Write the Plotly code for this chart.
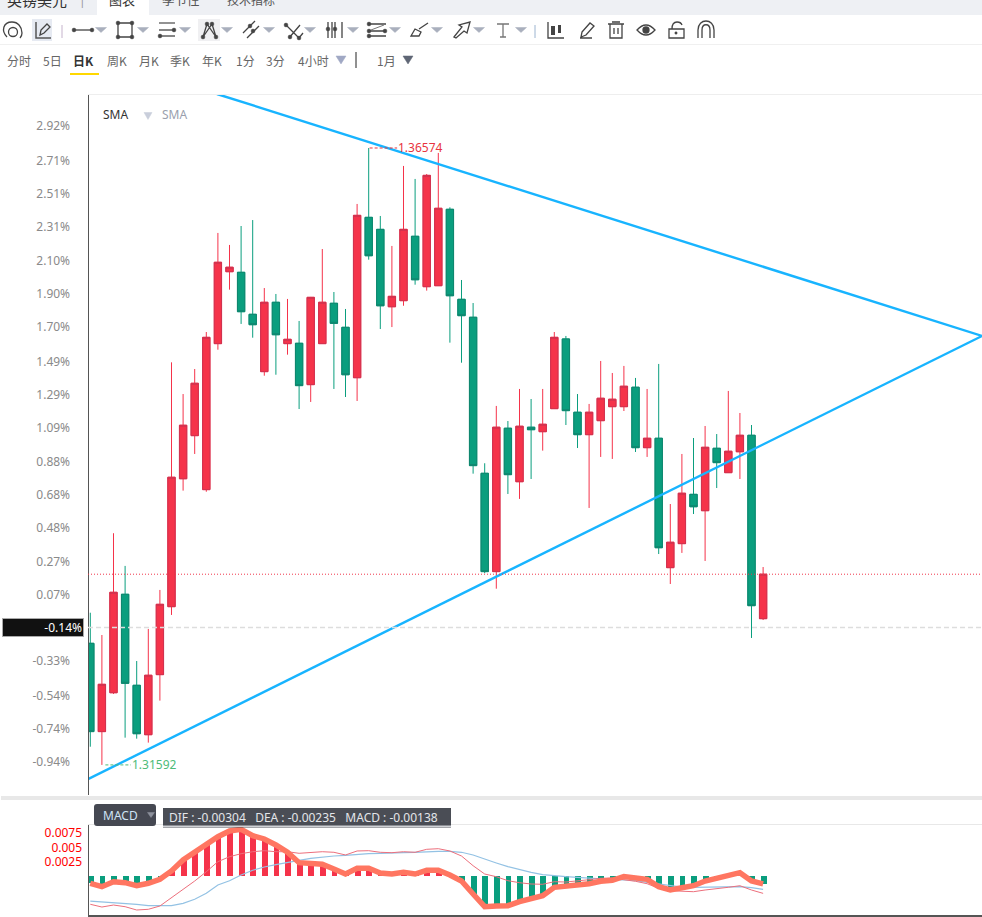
import re
import plotly.graph_objects as go

# Daily GBP/USD candles
open_ = [1.32574,1.31861,1.32175,1.32970,1.32235,1.31836,1.32321,1.32870,1.33903,1.34251,
         1.33815,1.34994,1.35575,1.35570,1.35231,1.34768,1.35328,1.34994,1.34997,1.34663,
         1.34994,1.35320,1.35126,1.34719,1.36014,1.35917,1.35292,1.35341,1.35861,1.35454,
         1.35462,1.36079,1.35352,1.35207,1.33947,1.33153,1.34311,1.33879,1.34319,1.34283,
         1.34469,1.35032,1.34440,1.34259,1.34372,1.34485,1.34485,1.34642,1.34154,1.34230,
         1.33185,1.33379,1.33777,1.33645,1.34149,1.33952,1.34121,1.34254,1.32773]
high = [1.32821,1.32641,1.33463,1.33199,1.32431,1.32690,1.33005,1.34843,1.34587,1.34789,
        1.35088,1.35888,1.35791,1.35944,1.35992,1.35443,1.35395,1.35355,1.35177,1.35371,
        1.35758,1.35411,1.35274,1.36122,1.36574,1.36025,1.35783,1.36429,1.36324,1.36364,
        1.36534,1.36095,1.35508,1.35322,1.34028,1.34491,1.34369,1.34628,1.34547,1.34628,
        1.35088,1.35056,1.34587,1.34507,1.34854,1.34757,1.34814,1.34717,1.34628,1.34830,
        1.33699,1.34103,1.34232,1.34329,1.34264,1.34612,1.34434,1.34337,1.33190]
low = [1.31739,1.31592,1.32165,1.31812,1.31804,1.31772,1.32111,1.32803,1.33807,1.34103,
       1.33798,1.34945,1.35430,1.35153,1.35042,1.34735,1.34743,1.34905,1.34466,1.34523,
       1.34991,1.34628,1.34563,1.34531,1.35672,1.35112,1.35128,1.35300,1.35470,1.35422,
       1.35462,1.35002,1.34840,1.33944,1.33140,1.33015,1.33780,1.33740,1.33901,1.34130,
       1.34469,1.34337,1.34151,1.33667,1.34079,1.34063,1.34450,1.34119,1.34079,1.33295,
       1.33053,1.33304,1.33618,1.33239,1.33828,1.33952,1.33901,1.32617,1.32762]
close = [1.31861,1.32243,1.32986,1.32251,1.31844,1.32316,1.32889,1.33915,1.34335,1.34674,
         1.35045,1.35651,1.35611,1.35252,1.35147,1.35328,1.35066,1.35029,1.34655,1.35368,
         1.35328,1.35158,1.34743,1.36030,1.35704,1.35300,1.35376,1.35917,1.35510,1.36353,
         1.36087,1.35381,1.35220,1.34009,1.33153,1.34319,1.33936,1.34327,1.34299,1.34343,
         1.35045,1.34453,1.34259,1.34440,1.34553,1.34545,1.34650,1.34154,1.34230,1.33346,
         1.33390,1.33786,1.33677,1.34157,1.34033,1.34125,1.34254,1.32878,1.33132]
bar_index = list(range(len(close)))

# MACD panel series
macd_hist = [-0.00128,-0.00187,-0.00100,-0.00117,-0.00170,-0.00128,-0.00058,0.00088,0.00280,0.00425,
             0.00543,0.00688,0.00788,0.00817,0.00705,0.00648,0.00543,0.00415,0.00233,0.00222,
             0.00205,0.00123,0.00035,0.00135,0.00135,0.00053,0.00035,0.00065,0.00035,0.00100,
             0.00100,0.00018,-0.00088,-0.00315,-0.00537,-0.00525,-0.00520,-0.00450,-0.00390,-0.00345,
             -0.00198,-0.00175,-0.00170,-0.00135,-0.00093,-0.00075,-0.00009,-0.00030,-0.00058,-0.00187,
             -0.00245,-0.00205,-0.00170,-0.00088,-0.00040,-0.00012,0.00058,-0.00088,-0.00138]
dea = [-0.00438,-0.00450,-0.00460,-0.00478,-0.00495,-0.00520,-0.00525,-0.00520,-0.00478,-0.00408,
       -0.00303,-0.00158,-0.00082,0.00018,0.00100,0.00158,0.00198,0.00240,0.00275,0.00310,
       0.00333,0.00350,0.00362,0.00380,0.00390,0.00397,0.00397,0.00408,0.00415,0.00425,
       0.00432,0.00432,0.00415,0.00368,0.00292,0.00228,0.00163,0.00110,0.00065,0.00023,
       0.0,-0.00012,-0.00023,-0.00040,-0.00053,-0.00065,-0.00070,-0.00082,-0.00110,-0.00140,
       -0.00158,-0.00193,-0.00198,-0.00198,-0.00198,-0.00193,-0.00187,-0.00205,-0.00235]
dif = [-0.00495,-0.00543,-0.00508,-0.00537,-0.00595,-0.00583,-0.00525,-0.00380,-0.00233,-0.00088,
       0.00075,0.00250,0.00338,0.00390,0.00425,0.00443,0.00425,0.00425,0.00397,0.00415,
       0.00425,0.00415,0.00368,0.00438,0.00443,0.00415,0.00408,0.00425,0.00415,0.00467,
       0.00478,0.00438,0.00350,0.00180,0.00035,-0.00012,-0.00082,-0.00117,-0.00140,-0.00145,
       -0.00100,-0.00105,-0.00088,-0.00065,-0.00040,-0.00035,-0.00065,-0.00093,-0.00135,-0.00215,
       -0.00257,-0.00263,-0.00275,-0.00245,-0.00228,-0.00198,-0.00170,-0.00245,-0.00304]

# Axis ticks and reference levels
base_price = 1.3287
pct_ticks = [2.92,2.71,2.51,2.31,2.10,1.90,1.70,1.49,1.29,1.09,0.88,0.68,0.48,0.27,0.07,-0.33,-0.54,-0.74,-0.94]
macd_ticks = [0.0075,0.005,0.0025]
current_level = 1.32702
last_close_level = 1.33132
current_pct_label = "-0.14%"

# Drawn trend lines: (bar index, price) end points
trend_upper_x = [10.92, 76.87]
trend_upper_y = [1.37010, 1.35056]
trend_lower_x = [-0.155, 76.87]
trend_lower_y = [1.31479, 1.35056]

W, H = 982, 917
RED, GREEN = "#f5334a", "#0a9e7e"
RED_EDGE, GREEN_EDGE = "#cf3350", "#10866f"
BLUE = "#18b4ff"
FONT = "Noto Sans, Noto Sans CJK SC, sans-serif"
CJK = "Noto Sans CJK SC, Noto Sans, sans-serif"

X_RANGE = [-0.155, 76.87]
Y_RANGE = [1.31349, 1.37010]
M_RANGE = [-0.0070, 0.0091]
top = [max(o, c) for o, c in zip(open_, close)]
bottom = [min(o, c) for o, c in zip(open_, close)]

fig = go.Figure()

# Wicks first, then the outlined bodies over them
fig.add_trace(go.Candlestick(
    x=bar_index, open=open_, high=high, low=low, close=close, xaxis="x", yaxis="y",
    increasing=dict(line=dict(color=RED, width=1), fillcolor=RED),
    decreasing=dict(line=dict(color=GREEN, width=1), fillcolor=GREEN),
    whiskerwidth=0, showlegend=False, hoverinfo="skip"))
fig.add_trace(go.Candlestick(
    x=bar_index, open=open_, high=top, low=bottom, close=close, xaxis="x", yaxis="y",
    increasing=dict(line=dict(color=RED_EDGE, width=1), fillcolor=RED),
    decreasing=dict(line=dict(color=GREEN_EDGE, width=1), fillcolor=GREEN),
    whiskerwidth=0, showlegend=False, hoverinfo="skip"))

for tx, ty in ((trend_upper_x, trend_upper_y), (trend_lower_x, trend_lower_y)):
    fig.add_trace(go.Scatter(x=tx, y=ty, mode="lines", line=dict(color=BLUE, width=2.4),
                             xaxis="x", yaxis="y", showlegend=False, hoverinfo="skip"))

# High and low markers with their dashed leaders
hi_i = high.index(max(high))
lo_i = low.index(min(low))
fig.add_trace(go.Scatter(x=[hi_i + 0.08, hi_i + 2.45], y=[max(high)] * 2, mode="lines",
                         line=dict(color="#e8343e", width=1, dash="3px,2px"),
                         showlegend=False, hoverinfo="skip"))
fig.add_trace(go.Scatter(x=[lo_i + 0.3, lo_i + 2.5], y=[min(low)] * 2, mode="lines",
                         line=dict(color="#4dbb78", width=1, dash="3px,2px"),
                         showlegend=False, hoverinfo="skip"))

# MACD histogram, signal lines and the heavy MACD trace
fig.add_trace(go.Bar(x=bar_index, y=macd_hist, width=0.5, xaxis="x2", yaxis="y2",
                     marker=dict(color=[RED if v > 0 else GREEN for v in macd_hist], line=dict(width=0)),
                     showlegend=False, hoverinfo="skip"))
fig.add_trace(go.Scatter(x=bar_index, y=dea, mode="lines", line=dict(color="#93c2e4", width=1.2),
                         xaxis="x2", yaxis="y2", showlegend=False, hoverinfo="skip"))
fig.add_trace(go.Scatter(x=bar_index, y=dif, mode="lines", line=dict(color="#ec6f7c", width=1),
                         xaxis="x2", yaxis="y2", showlegend=False, hoverinfo="skip"))
fig.add_trace(go.Scatter(x=bar_index, y=macd_hist, mode="lines", line=dict(color="#ff7661", width=5.5),
                         xaxis="x2", yaxis="y2", showlegend=False, hoverinfo="skip"))

# Pixel helpers for the toolbar chrome
def px(x): return x / W
def py(y): return 1 - y / H

def path_to_paper(d):
    tokens = re.findall(r"[A-Za-z]|-?\d+\.?\d*", d)
    out, is_x = [], True
    for t in tokens:
        if t.isalpha():
            out.append(t); is_x = True
        else:
            v = float(t)
            out.append(f"{px(v):.5f}" if is_x else f"{py(v):.5f}")
            is_x = not is_x
    return " ".join(out)

shapes, annos = [], []

def path(d, color="#444", width=1.3, fill=None):
    shapes.append(dict(type="path", xref="paper", yref="paper", path=path_to_paper(d),
                       line=dict(color=color, width=width),
                       fillcolor=fill if fill else "rgba(0,0,0,0)"))

def rect(x0, y0, x1, y1, fill, line=None, width=0):
    shapes.append(dict(type="rect", xref="paper", yref="paper", x0=px(x0), x1=px(x1), y0=py(y0), y1=py(y1),
                       fillcolor=fill, line=dict(color=line or fill, width=width)))

def circle(cx, cy, r, fill=None, color="#444", width=1.3):
    shapes.append(dict(type="circle", xref="paper", yref="paper", x0=px(cx - r), x1=px(cx + r),
                       y0=py(cy - r), y1=py(cy + r), fillcolor=fill if fill else "rgba(0,0,0,0)",
                       line=dict(color=color, width=width)))

def dots(pts, r=1.9):
    for a, b in pts:
        circle(a, b, r, fill="#444", width=0.5)

def tri(cx, cy=30, w=5.5, h=5, color="#a9afbd"):
    path(f"M {cx-w} {cy-h/2} L {cx+w} {cy-h/2} L {cx} {cy+h/2} Z", color=color, width=0.5, fill=color)

def label(x, y, text, size=12, color="#666", anchor="center", font=FONT, bold=False):
    annos.append(dict(xref="paper", yref="paper", x=px(x), y=py(y), text=f"<b>{text}</b>" if bold else text,
                      showarrow=False, xanchor=anchor, yanchor="middle", borderpad=0,
                      font=dict(size=size, color=color, family=font)))

# Tab strip
rect(0, 0, 982, 15, "#eef0f4")
rect(97, 0, 149, 15, "#ffffff")
label(37, -1, "英镑美元", 15, "#333", font=CJK)
label(82, 0, "|", 12, "#999")
label(122, -1, "图表", 13, "#333", font=CJK)
label(181, -1, "季节性", 12.5, "#555", font=CJK)
label(251, -1, "技术指标", 12, "#555", font=CJK)
rect(0, 44, 982, 45, "#f0f0f0")

# Drawing toolbar icons
path("M 7 37 C 1 31 3 22 12 22 C 18 22 22 27 22 33 C 22 35 21 37 20 38")
circle(13, 32, 4.5)
rect(32, 19, 52, 41, "#e6eaf2")
path("M 36 22 L 36 38 L 51 38", color="#555", width=1.5)
path("M 40 35 L 41 30 L 47 24 L 50 27 L 44 33 Z")
path("M 62 25 L 62 38", color="#c5b3cc", width=1)
path("M 74 30 L 92 30"); dots([(74, 30), (92, 30)]); tri(101)
path("M 118 23 L 132 23 L 132 37 L 118 37 Z"); dots([(118, 23), (132, 23), (118, 37), (132, 37)]); tri(143)
path("M 159 23 L 175 23", color="#777", width=1.6); path("M 159 30 L 175 30"); path("M 159 36 L 175 36")
dots([(174, 30), (160, 36)]); tri(185)
rect(198, 19, 220, 41, "#f0f0f2")
path("M 203 37 L 207 24 L 216 37 M 203 37 L 212 24 L 216 37")
dots([(203, 37), (207, 24), (212, 24), (216, 37)]); tri(227)
path("M 243 33 L 255 21 M 247 38 L 259 26"); dots([(250, 26), (253, 31)]); tri(269)
path("M 285 24 L 299 38 L 303 33 M 289 38 L 300 25"); dots([(286, 25), (299, 38), (290, 37)]); tri(310)
path("M 328 22 L 328 38 M 335 22 L 335 38 M 342 22 L 342 38 M 332 22 L 332 38"); dots([(328, 29), (335, 29)]); tri(353)
path("M 369 24 L 386 24 M 369 31 L 386 31 M 369 36 L 386 36"); path("M 371 30 L 384 25", color="#777", width=1)
dots([(369, 24), (369, 31), (369, 36), (385, 31)]); tri(395)
path("M 411 36 L 415 29 L 421 32 L 419 36 Z M 419 29 L 428 23"); tri(437)
path("M 454 37 L 462 27 L 459 25 L 470 22 L 467 33 L 464 31 L 456 38 Z"); tri(479)
path("M 497 24 L 509 24 M 503 24 L 503 37 M 500 37 L 506 37", color="#777"); tri(521)
path("M 535 25 L 535 38", color="#9cb4d0", width=1)
path("M 548 22 L 548 38 L 564 38"); rect(551, 26, 555, 35, "#444"); rect(558, 25, 561, 33, "#444")
path("M 582 32 L 590 23 L 594 26 L 586 35 L 581 37 Z M 580 38 L 592 38")
path("M 608 24 L 624 24 M 612 22 L 620 22 M 610 24 L 610 38 L 622 38 L 622 24 M 614 28 L 614 34 M 618 28 L 618 34")
path("M 637 30 Q 646 20 655 30 Q 646 40 637 30 Z"); circle(646, 30, 3, fill="#444")
path("M 669 29 L 684 29 L 684 38 L 669 38 Z M 672 29 Q 672 22 677 22 Q 681 22 682 25"); dots([(676, 33)], 1.2)
path("M 698 38 L 698 30 C 698 18 714 18 714 30 L 714 38 M 702 38 L 702 30 C 702 23 710 23 710 30 L 710 38")

# Timeframe row
for tx, txt in ((19, "分时"), (52, "5日"), (117, "周K"), (149, "月K"), (180, "季K"),
                (212, "年K"), (245, "1分"), (275, "3分"), (313, "4小时"), (386, "1月")):
    label(tx, 60, txt, 12, "#666", font=CJK)
label(83, 60, "日K", 12, "#333", font=CJK, bold=True)
rect(70, 73, 99, 75, "#ffd800")
tri(341, 60, 5, 8, "#a0a8c4"); tri(408, 60, 5, 8, "#5f6675")
path("M 356 52 L 356 68", color="#222", width=1)

# Chart frame and indicator strip
rect(88, 94, 982, 95, "#eeeeee")
rect(1, 796, 982, 800, "#e8e8e8")
rect(88, 824, 982, 825, "#e8e8e8")

label(102, 115, "SMA", 12, "#333", anchor="left")
tri(148, 116, 4, 7, "#c9cedb")
label(161, 115, "SMA", 12, "#9a9fad", anchor="left")

# MACD badge and readout
shapes.append(dict(type="path", xref="paper", yref="paper", line=dict(width=0), fillcolor="#454852",
                   path=path_to_paper("M 97 804 L 153 804 Q 156 804 156 807 L 156 823 Q 156 826 153 826 "
                                      "L 97 826 Q 94 826 94 823 L 94 807 Q 94 804 97 804 Z")))
label(120, 815, "MACD", 12, "#cfe3f5")
tri(151, 815, 3.5, 5, "#8d919c")
rect(163, 808, 451, 827.5, "#4a4d55")
rect(163, 825.5, 451, 827, "#d0d2d6")
label(168, 817.5, f"DIF : {dif[-1]:.5f}&nbsp;&nbsp;&nbsp;DEA : {dea[-1]:.5f}&nbsp;&nbsp;&nbsp;MACD : {macd_hist[-1]:.5f}",
      12, "#e4e6ea", anchor="left")

# Reference levels tied to the price scale
shapes.append(dict(type="line", xref="paper", x0=px(88), x1=1, yref="y", y0=last_close_level, y1=last_close_level,
                   line=dict(color="#f0364c", width=1, dash="1px,2px")))
shapes.append(dict(type="line", xref="paper", x0=px(88), x1=1, yref="y", y0=current_level, y1=current_level,
                   line=dict(color="#dddddd", width=1.5, dash="5px,3px")))

# Current value tag on the axis
annos.append(dict(xref="paper", yref="y", x=px(84), y=current_level, xanchor="right", yanchor="middle",
                  text=current_pct_label, showarrow=False, align="right", width=78, height=15, borderpad=1,
                  bgcolor="#111111", bordercolor="#aaaaaa", borderwidth=1,
                  font=dict(size=12, color="#ffffff", family=FONT)))

# Extreme price labels
annos.append(dict(xref="x", yref="y", x=hi_i + 2.45, y=max(high), text=f"{max(high):.5f}", showarrow=False,
                  xanchor="left", yanchor="middle", borderpad=0, font=dict(size=12, color="#e8343e", family=FONT)))
annos.append(dict(xref="x", yref="y", x=lo_i + 2.5, y=min(low), text=f"{min(low):.5f}", showarrow=False,
                  xanchor="left", yanchor="middle", borderpad=0, font=dict(size=12, color="#4dbb78", family=FONT)))

fig.update_layout(
    width=W, height=H, autosize=False,
    margin=dict(l=0, r=0, t=0, b=0),
    paper_bgcolor="#ffffff", plot_bgcolor="rgba(0,0,0,0)",
    showlegend=False, dragmode=False, boxgap=0.1, bargap=0,
    shapes=shapes, annotations=annos,
    xaxis=dict(domain=[88.5 / W, 1], range=X_RANGE, visible=False, fixedrange=True,
               rangeslider=dict(visible=False), anchor="y"),
    yaxis=dict(domain=[1 - 795 / H, 1 - 94 / H], range=Y_RANGE, anchor="x", fixedrange=True,
               tickmode="array", tickvals=[base_price * (1 + p / 100) for p in pct_ticks],
               ticktext=[f"{p:.2f}%" for p in pct_ticks],
               tickfont=dict(size=12, color="#8a8a8a", family=FONT),
               ticks="", ticklabelstandoff=15, showgrid=False, zeroline=False,
               showline=True, linecolor="#555555", linewidth=1),
    xaxis2=dict(domain=[88.5 / W, 1], range=X_RANGE, visible=False, fixedrange=True,
                rangeslider=dict(visible=False), anchor="y2"),
    yaxis2=dict(domain=[1 - 916 / H, 1 - 824 / H], range=M_RANGE, anchor="x2", fixedrange=True,
                tickmode="array", tickvals=macd_ticks, ticktext=[str(t) for t in macd_ticks],
                tickfont=dict(size=12, color="#ff0000", family=FONT),
                ticks="", ticklabelstandoff=3, showgrid=False, zeroline=False,
                showline=True, linecolor="#555555", linewidth=1),
)
shapes_bottom = dict(type="line", xref="paper", yref="paper", x0=px(88), x1=1, y0=py(916), y1=py(916),
                     line=dict(color="#555555", width=2))
fig.add_shape(**shapes_bottom)

fig.write_html("out.html", config=dict(displayModeBar=False))
